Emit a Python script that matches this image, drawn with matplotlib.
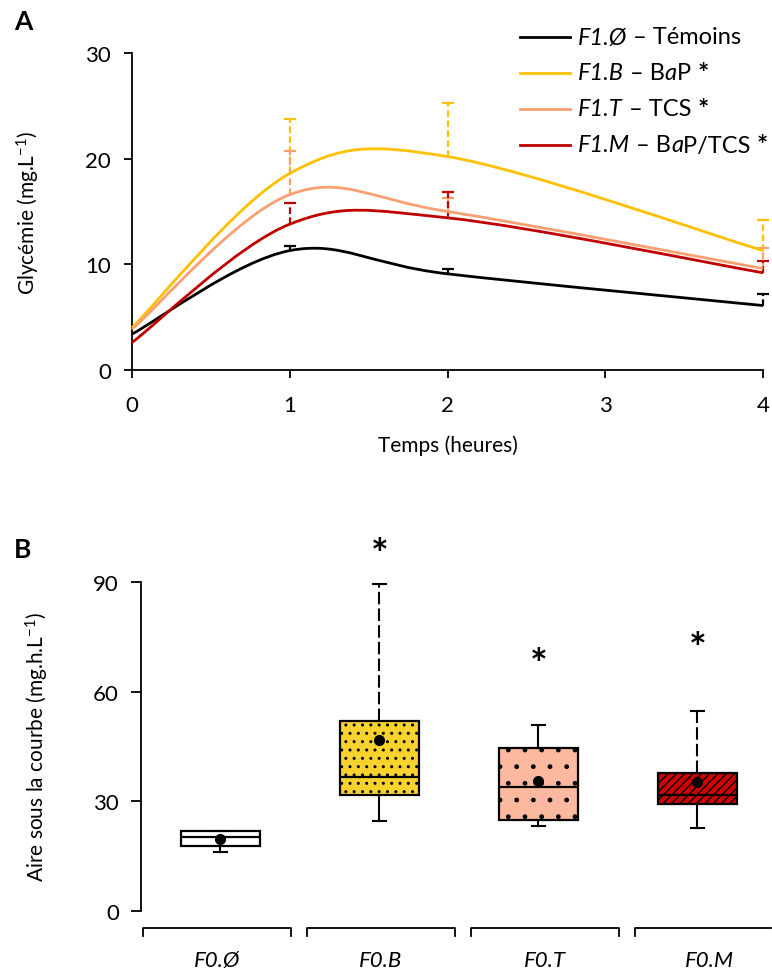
import matplotlib
matplotlib.use("Agg")
import matplotlib.pyplot as plt
from matplotlib.path import Path
from matplotlib.patches import PathPatch
from matplotlib.lines import Line2D

plt.rcParams['font.family'] = ['Lato', 'DejaVu Sans']
plt.rcParams['font.size'] = 15
plt.rcParams['mathtext.fontset'] = 'custom'
plt.rcParams['mathtext.rm'] = 'Lato'
plt.rcParams['mathtext.it'] = 'Lato:italic'
plt.rcParams['mathtext.bf'] = 'Lato:bold'

# panel A : glycémie
hours = [0, 1, 2, 4]
temoins = [3.4, 11.3, 9.1, 6.1]
bap = [4.0, 18.6, 20.2, 11.3]
tcs = [3.85, 16.6, 15.0, 9.6]
mix = [2.6, 13.8, 14.4, 9.2]
err_temoins = [0, 0.4, 0.5, 1.1]
err_bap = [0, 5.2, 5.1, 2.9]
err_tcs = [0, 4.1, 1.3, 1.9]
err_mix = [0, 2.05, 2.4, 1.1]
# légende : morceaux de texte et leur style
labels_a = [[('F1.Ø', 'italic'), (' – Témoins', 'normal')],
            [('F1.B', 'italic'), (' – B', 'normal'), ('a', 'italic'), ('P ', 'normal'), ('*', 'bold')],
            [('F1.T', 'italic'), (' – TCS ', 'normal'), ('*', 'bold')],
            [('F1.M', 'italic'), (' – B', 'normal'), ('a', 'italic'), ('P/TCS ', 'normal'), ('*', 'bold')]]
colors_a = ['black', '#FFC000', '#F9A072', '#C00000']

# panel B : aire sous la courbe
groups = ['F0.Ø', 'F0.B', 'F0.T', 'F0.M']
whislo = [16.2, 24.6, 23.2, 22.7]
q1 = [17.9, 31.6, 25.0, 29.4]
med = [20.3, 36.6, 34.0, 31.7]
q3 = [21.8, 52.0, 44.5, 37.8]
whishi = [21.8, 89.4, 51.0, 54.8]
means = [19.6, 46.9, 35.6, 35.4]
star_y = [None, 97, 67, 71.3]
box_colors = ['white', '#F9D22F', '#FDB9A0', '#D00000']
box_hatch = [None, '..', '.', '////']


def smooth_path(x, y):
    # courbe lissée type Excel (bezier catmull-rom)
    pts = list(zip(x, y))
    n = len(pts)
    verts = [pts[0]]
    codes = [Path.MOVETO]
    for i in range(n - 1):
        p0 = pts[max(i - 1, 0)]
        p1 = pts[i]
        p2 = pts[i + 1]
        p3 = pts[min(i + 2, n - 1)]
        c1 = (p1[0] + (p2[0] - p0[0]) / 6, p1[1] + (p2[1] - p0[1]) / 6)
        c2 = (p2[0] - (p3[0] - p1[0]) / 6, p2[1] - (p3[1] - p1[1]) / 6)
        verts += [c1, c2, p2]
        codes += [Path.CURVE4] * 3
    return Path(verts, codes)


W, H = 772, 970
fig = plt.figure(figsize=(W / 100, H / 100), dpi=100)

ax = fig.add_axes([132 / W, 1 - 371 / H, 631 / W, 317 / H])
series = [temoins, bap, tcs, mix]
errs = [err_temoins, err_bap, err_tcs, err_mix]
for ys, es, c in zip(series, errs, colors_a):
    for xv, yv, ev in zip(hours, ys, es):
        if ev > 0:
            ax.plot([xv, xv], [yv, yv + ev], color=c, lw=1.6, ls=(0, (3, 1.5)), clip_on=False, zorder=2)
            ax.plot([xv], [yv + ev], marker='_', ms=8, mew=1.6, color=c, clip_on=False, zorder=2)
for ys, c in zip(series, colors_a):
    ax.add_patch(PathPatch(smooth_path(hours, ys), fill=False, edgecolor=c, lw=2.0, clip_on=False, zorder=3))

ax.set_xlim(0, 4)
ax.set_ylim(0, 30)
ax.set_xticks([0, 1, 2, 3, 4])
ax.set_yticks([0, 10, 20, 30])
ax.spines['top'].set_visible(False)
ax.spines['right'].set_visible(False)
for s in ['left', 'bottom']:
    ax.spines[s].set_linewidth(1.3)
ax.tick_params(direction='out', length=6, width=1.3, labelsize=16)
ax.tick_params(axis='y', pad=9)
ax.tick_params(axis='x', pad=12)
ax.set_xlabel('Temps (heures)', fontsize=15, labelpad=14)
ax.set_ylabel('Glycémie (mg.L$^{-1}$)', fontsize=15, labelpad=31)

# légende faite à la main (styles mélangés)
for k, (parts, c) in enumerate(zip(labels_a, colors_a)):
    yc = 1 - (38 + 36 * k) / H
    fig.add_artist(Line2D([520 / W, 570 / W], [yc, yc], color=c, lw=2.0, transform=fig.transFigure))
    last = None
    for txt, st in parts:
        kw = dict(fontsize=17, va='center', ha='left')
        if st == 'bold':
            kw['fontweight'] = 'bold'
            kw['fontsize'] = 19
        elif st == 'italic':
            kw['style'] = 'italic'
        if last is None:
            last = fig.text(578 / W, yc, txt, **kw)
        else:
            last = ax.annotate(txt, xy=(1, 0.5), xycoords=last, annotation_clip=False, **kw)

fig.text(14 / W, 1 - 22 / H, 'A', fontsize=19, fontweight='bold', va='center')
fig.text(14 / W, 1 - 550 / H, 'B', fontsize=19, fontweight='bold', va='center')

# panel B
bx = fig.add_axes([141 / W, 1 - 912 / H, 631 / W, 329 / H])
pos = [1, 2, 3, 4]
stats = []
for i in range(4):
    stats.append(dict(whislo=whislo[i], q1=q1[i], med=med[i], q3=q3[i], whishi=whishi[i], mean=means[i]))
plt.rcParams['hatch.linewidth'] = 1.0
bp = bx.bxp(stats, positions=pos, widths=0.5, showmeans=True, patch_artist=True,
            showfliers=False, capwidths=0.08,
            boxprops=dict(linewidth=1.6, edgecolor='black'),
            medianprops=dict(color='black', linewidth=1.6),
            whiskerprops=dict(color='black', linewidth=1.5),
            capprops=dict(color='black', linewidth=1.5),
            meanprops=dict(marker='o', markerfacecolor='black', markeredgecolor='black', markersize=7))
for patch, fc, h in zip(bp['boxes'], box_colors, box_hatch):
    patch.set_facecolor(fc)
    if h:
        patch.set_hatch(h)
# moustaches hautes en tirets (B et M)
for i in [1, 3]:
    bp['whiskers'][2 * i + 1].set_linestyle((0, (6, 2)))
for p, s in zip(pos, star_y):
    if s is not None:
        bx.text(p, s, '*', ha='center', va='center', fontsize=30, fontweight='bold', clip_on=False)

bx.set_xlim(0.5, 4.47)
bx.set_ylim(0, 90)
bx.set_yticks([0, 30, 60, 90])
bx.set_xticks([])
for s in ['top', 'right', 'bottom']:
    bx.spines[s].set_visible(False)
bx.spines['left'].set_linewidth(1.3)
bx.tick_params(axis='y', direction='out', length=7, width=1.3, labelsize=16, pad=9)
bx.set_ylabel('Aire sous la courbe (mg.h.L$^{-1}$)', fontsize=15, labelpad=30)

# crochets de catégories sous l'axe
for i, g in enumerate(groups):
    x0 = 143 + 164 * i
    x1 = min(x0 + 148, 771)
    if x0 + 148 <= 771:
        xs, ys = [x0, x0, x1, x1], [937, 929, 929, 937]
    else:
        xs, ys = [x0, x0, x1], [937, 929, 929]
    fig.add_artist(Line2D([v / W for v in xs], [1 - v / H for v in ys], color='black', lw=1.3,
                          transform=fig.transFigure))
    fig.text((x0 + 74) / W, 1 - 961 / H, g, ha='center', va='center', fontsize=16, style='italic')

fig.savefig('out.png', dpi=100)
